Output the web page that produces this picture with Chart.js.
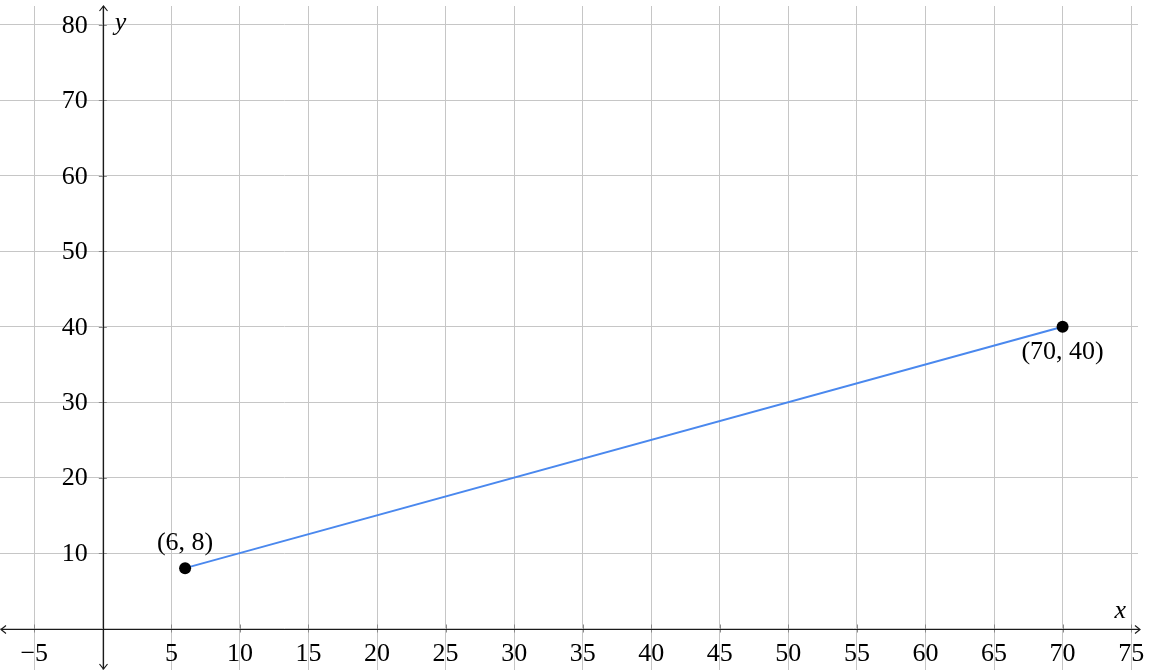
<!DOCTYPE html>
<html>
<head>
<meta charset="utf-8">
<script src="https://cdn.jsdelivr.net/npm/chart.js@4/dist/chart.umd.min.js"></script>
<style>
  html, body { margin: 0; padding: 0; background: #ffffff; }
  #wrap { position: absolute; left: 0; top: 0; width: 1150px; height: 670px; }
</style>
</head>
<body>
<div id="wrap"><canvas id="c"></canvas></div>
<script>
// ---- data ----
const xValues = [6, 70];
const yValues = [8, 40];
const pointLabels = ['(6, 8)', '(70, 40)'];
const xTicks = [-5, 0, 5, 10, 15, 20, 25, 30, 35, 40, 45, 50, 55, 60, 65, 70, 75];
const yTicks = [0, 10, 20, 30, 40, 50, 60, 70, 80];
const xTickLabels = [-5, 5, 10, 15, 20, 25, 30, 35, 40, 45, 50, 55, 60, 65, 70, 75];
const yTickLabels = [10, 20, 30, 40, 50, 60, 70, 80];
const xAxisTitle = 'x';
const yAxisTitle = 'y';

const FONT = '"Liberation Serif", "DejaVu Serif", serif';
const fmt = v => (v < 0 ? '\u2212' + Math.abs(v) : String(v));

const axesPlugin = {
  id: 'axesPlugin',
  beforeDatasetsDraw(chart) {
    const ctx = chart.ctx;
    const xs = chart.scales.x, ys = chart.scales.y;
    const ca = chart.chartArea;
    const ax = xs.getPixelForValue(0);
    const ay = ys.getPixelForValue(0);
    ctx.save();
    // small tick marks
    ctx.strokeStyle = '#8a8a8a';
    ctx.lineWidth = 1;
    ctx.beginPath();
    xTicks.forEach(v => { if (v !== 0) { const p = Math.round(xs.getPixelForValue(v)) + 0.5; ctx.moveTo(p, ay - 4); ctx.lineTo(p, ay + 4); } });
    yTicks.forEach(v => { if (v !== 0) { const p = Math.round(ys.getPixelForValue(v)) + 0.5; ctx.moveTo(ax - 4, p); ctx.lineTo(ax + 4, p); } });
    ctx.stroke();
    // axis lines
    ctx.strokeStyle = '#1a1a1a';
    ctx.lineWidth = 1.2;
    const yA = Math.round(ay) + 0.5, xA = Math.round(ax) + 0.5;
    const left = 1, right = ca.right + 2, top = ca.top, bottom = ca.bottom - 1;
    ctx.beginPath();
    ctx.moveTo(left, yA); ctx.lineTo(right, yA);
    ctx.moveTo(xA, top); ctx.lineTo(xA, bottom);
    // arrowheads
    ctx.moveTo(left + 5, yA - 4); ctx.lineTo(left, yA); ctx.lineTo(left + 5, yA + 4);
    ctx.moveTo(right - 5, yA - 4); ctx.lineTo(right, yA); ctx.lineTo(right - 5, yA + 4);
    ctx.moveTo(xA - 4, top + 5); ctx.lineTo(xA, top); ctx.lineTo(xA + 4, top + 5);
    ctx.moveTo(xA - 4, bottom - 5); ctx.lineTo(xA, bottom); ctx.lineTo(xA + 4, bottom - 5);
    ctx.stroke();
    ctx.restore();
  },
  afterDatasetsDraw(chart) {
    const ctx = chart.ctx;
    const xs = chart.scales.x, ys = chart.scales.y;
    const ax = xs.getPixelForValue(0);
    const ay = ys.getPixelForValue(0);
    ctx.save();
    ctx.fillStyle = '#000';
    ctx.font = '26px ' + FONT;
    // x tick labels
    ctx.textAlign = 'center';
    ctx.textBaseline = 'middle';
    xTickLabels.forEach(v => ctx.fillText(fmt(v), xs.getPixelForValue(v), ay + 26));
    // y tick labels
    ctx.textAlign = 'right';
    yTickLabels.forEach(v => ctx.fillText(fmt(v), ax - 15, ys.getPixelForValue(v) + 1));
    // axis titles
    ctx.font = 'italic 26px ' + FONT;
    ctx.textAlign = 'left';
    ctx.fillText(yAxisTitle, ax + 12, ys.getPixelForValue(80) - 2);
    ctx.textAlign = 'center';
    ctx.fillText(xAxisTitle, xs.getPixelForValue(74.2), ay - 17);
    // point labels
    ctx.font = '26px ' + FONT;
    const offs = [-25, 25];
    xValues.forEach((xv, i) => {
      ctx.fillText(pointLabels[i], xs.getPixelForValue(xv), ys.getPixelForValue(yValues[i]) + offs[i]);
    });
    ctx.restore();
  }
};

new Chart(document.getElementById('c'), {
  type: 'line',
  data: {
    datasets: [{
      data: xValues.map((x, i) => ({ x: x, y: yValues[i] })),
      borderColor: '#4a88ee',
      borderWidth: 2,
      pointRadius: 6,
      pointBackgroundColor: '#000',
      pointBorderColor: '#000',
      pointBorderWidth: 0,
      fill: false,
      tension: 0
    }]
  },
  options: {
    responsive: true,
    maintainAspectRatio: false,
    animation: false,
    layout: { autoPadding: false, padding: { left: 0, right: 12, top: 6, bottom: 0 } },
    plugins: { legend: { display: false }, tooltip: { enabled: false } },
    scales: {
      x: {
        type: 'linear', min: -7.5, max: 75.5,
        afterBuildTicks: s => { s.ticks = xTicks.map(v => ({ value: v })); },
        afterFit: s => { s.height = 0; s.paddingLeft = 0; s.paddingRight = 0; },
        ticks: { display: false },
        grid: { color: '#c6c6c6', lineWidth: 1, drawTicks: false },
        border: { display: false }
      },
      y: {
        type: 'linear', min: -5.5, max: 82.5,
        afterBuildTicks: s => { s.ticks = yTicks.map(v => ({ value: v })); },
        afterFit: s => { s.width = 0; s.paddingTop = 0; s.paddingBottom = 0; },
        ticks: { display: false },
        grid: { color: '#c6c6c6', lineWidth: 1, drawTicks: false },
        border: { display: false }
      }
    }
  },
  plugins: [axesPlugin]
});
</script>
</body>
</html>
